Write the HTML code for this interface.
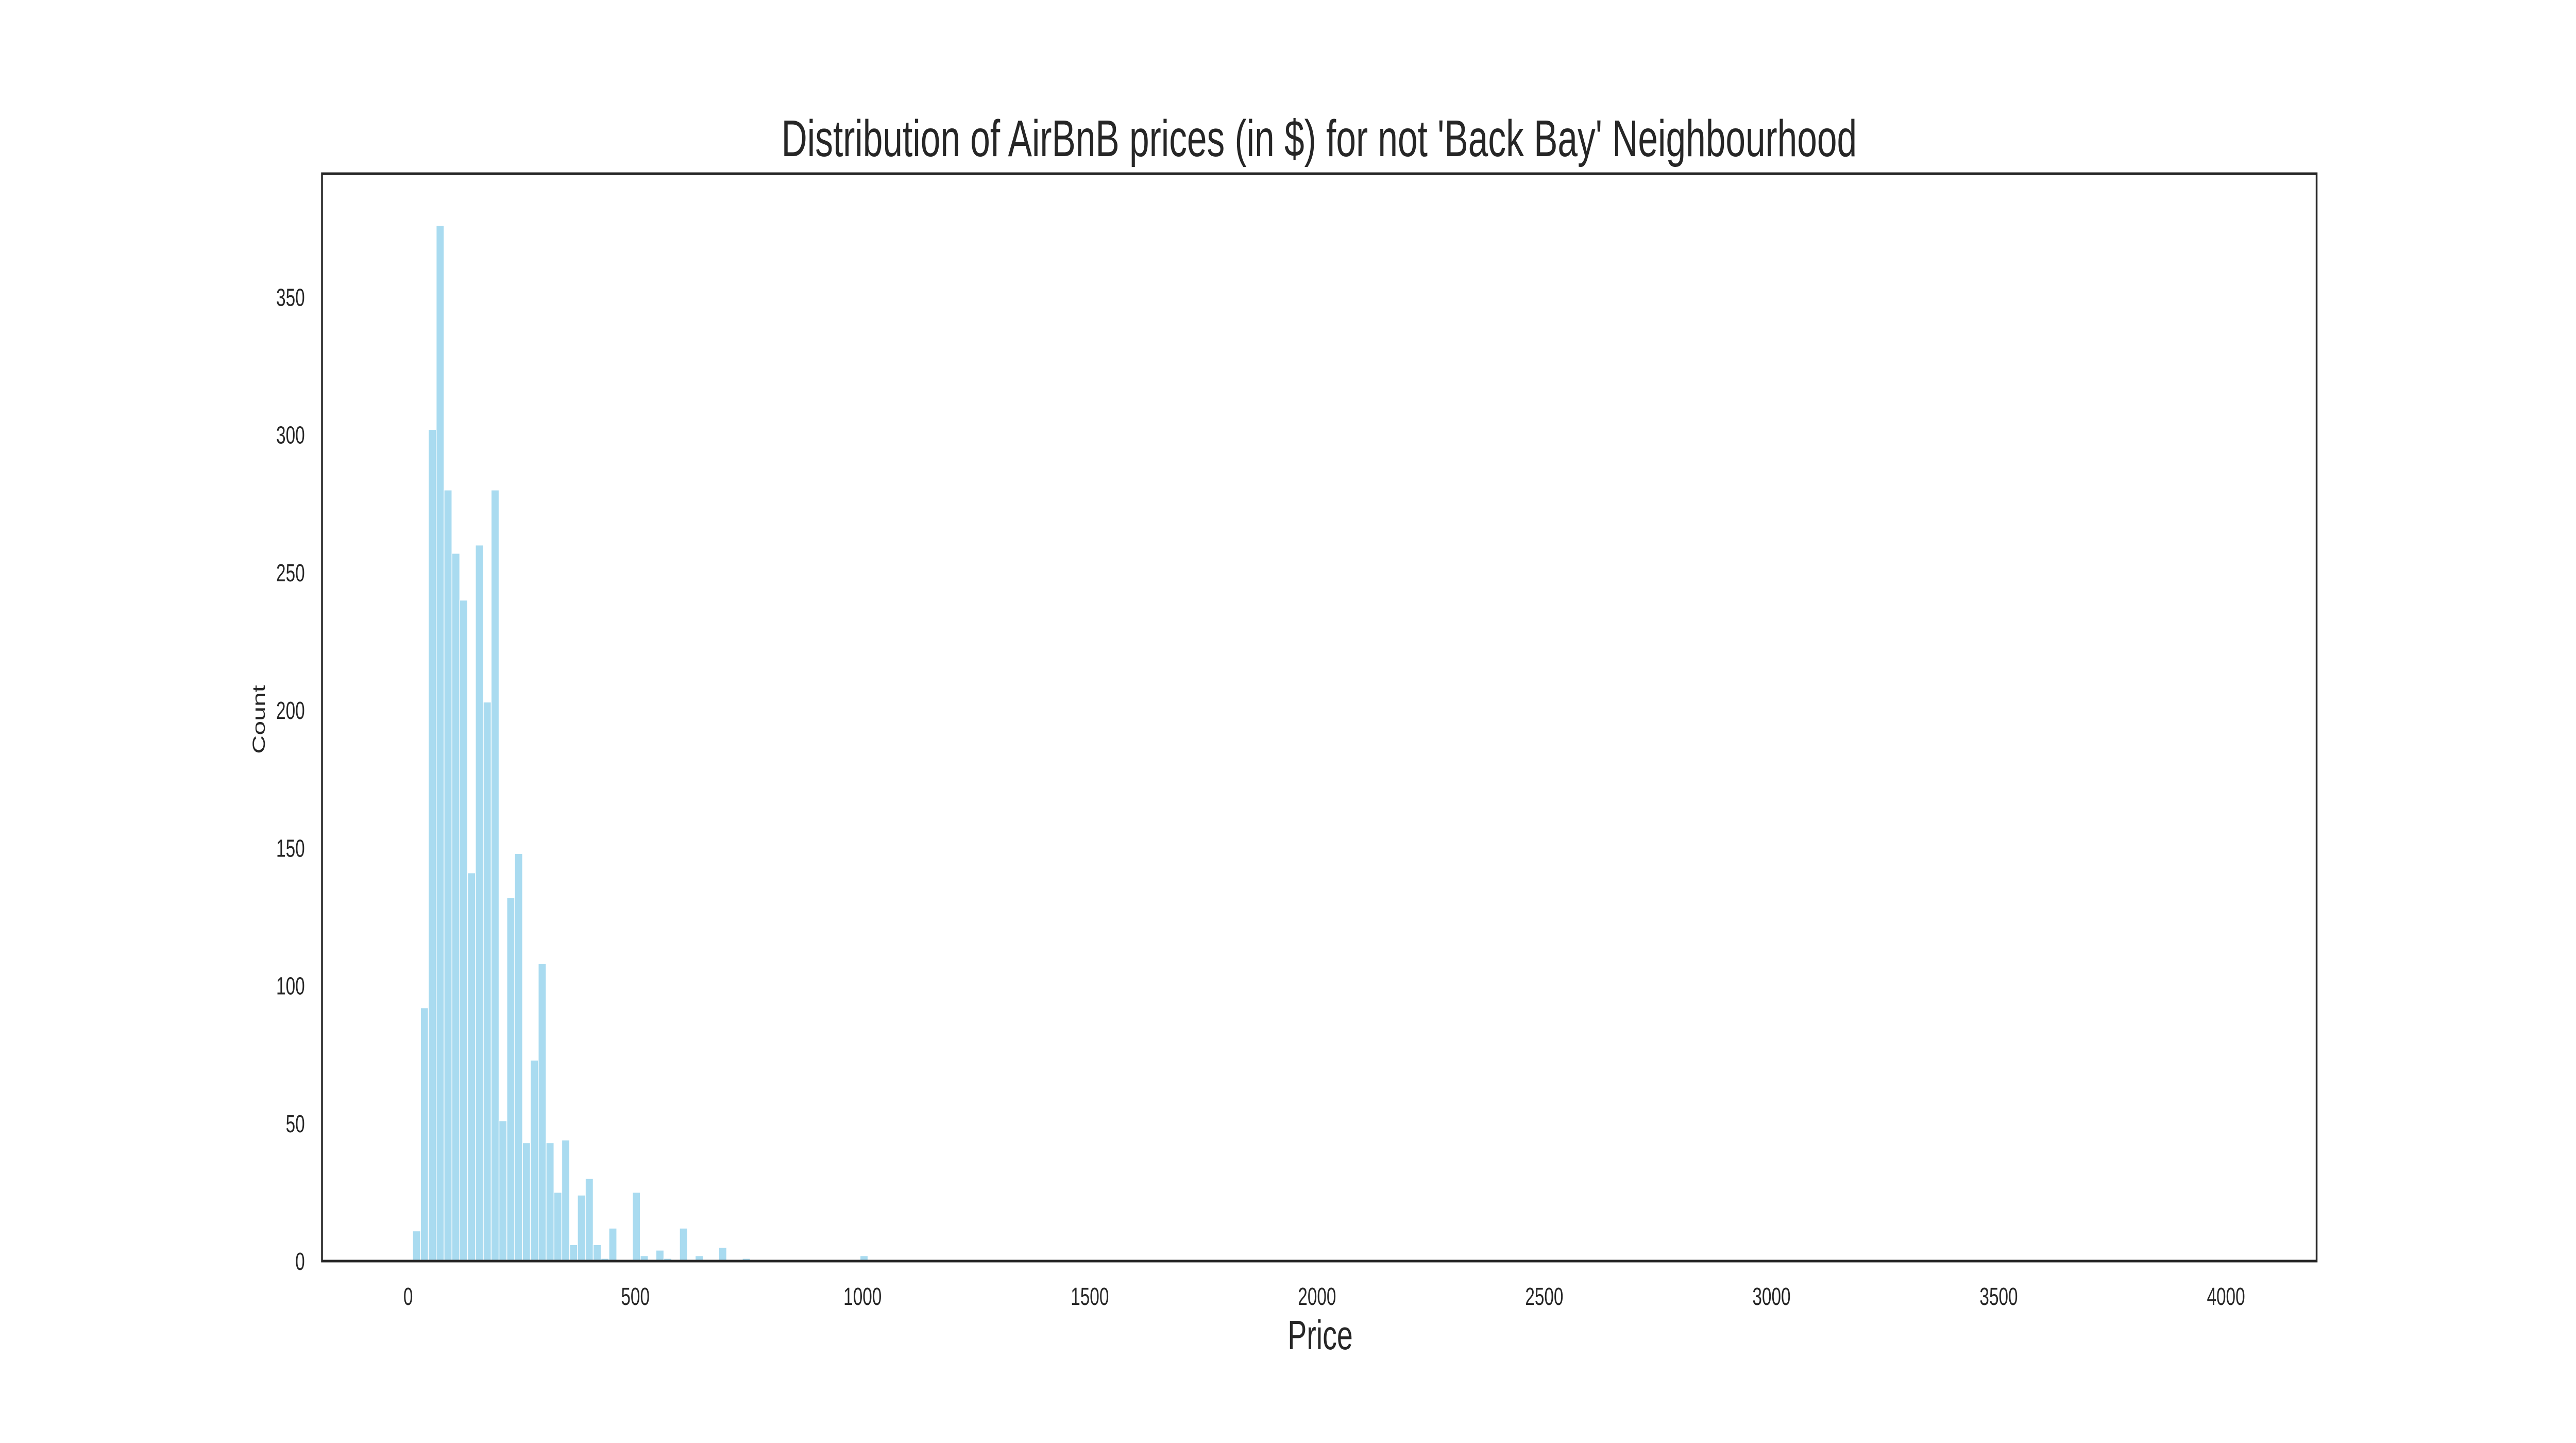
<!DOCTYPE html>
<html>
<head>
<meta charset="utf-8">
<style>
  html, body { margin: 0; padding: 0; background: #ffffff; overflow: hidden; width: 100vw; height: 100vh; }
  svg { display: block; width: 100vw; height: 100vh; }
  text { font-family: "Liberation Sans", "DejaVu Sans", sans-serif; fill: #262626; }
</style>
</head>
<body>
<svg id="chart" xmlns="http://www.w3.org/2000/svg" viewBox="0 0 7200 2800" preserveAspectRatio="none">
  <rect x="0" y="0" width="7200" height="2800" fill="#ffffff"/>
  <text x="3687" y="303" font-size="100" text-anchor="middle">Distribution of AirBnB prices (in $) for not 'Back Bay' Neighbourhood</text>
  <g id="bars"></g>
  <g id="xticks"></g>
  <g id="yticks"></g>
  <rect x="900" y="337" width="5575" height="2110" fill="none" stroke="#262626" stroke-width="5"/>
  <text x="3690" y="2618" font-size="80" text-anchor="middle">Price</text>
  <text x="740" y="1396" font-size="50" text-anchor="middle" transform="rotate(-90 740 1396)">Count</text>
</svg>
<script>
// Histogram data (price bins)
const binStart = 10;
const binEnd = 4000;
const binCount = 231;
// non-zero bin indices and their counts
const binIndex = [0, 1, 2, 3, 4, 5, 6, 7, 8, 9, 10, 11, 12, 13, 14, 15, 16, 17, 18, 19, 20, 21, 22, 23, 24, 25, 28, 29, 31, 32, 34, 36, 39, 42, 57];
const binValues = [11, 92, 302, 376, 280, 257, 240, 141, 260, 203, 280, 51, 132, 148, 43, 73, 108, 43, 25, 44, 6, 24, 30, 6, 1, 12, 25, 2, 4, 1, 12, 2, 5, 1, 2];
const xTickValues = [0, 500, 1000, 1500, 2000, 2500, 3000, 3500, 4000];
const yTickValues = [0, 50, 100, 150, 200, 250, 300, 350];

const NS = 'http://www.w3.org/2000/svg';
const plotLeft = 900, plotRight = 6475, plotTop = 337, plotBottom = 2447;
const xMin = binStart - (binEnd - binStart) * 0.05;
const xMax = binEnd + (binEnd - binStart) * 0.05;
const maxCount = Math.max(...binValues);
const yMax = maxCount * 1.05;
function xScale(v) { return plotLeft + (v - xMin) / (xMax - xMin) * (plotRight - plotLeft); }
function yScale(v) { return plotBottom - v / yMax * (plotBottom - plotTop); }

const binWidth = (binEnd - binStart) / binCount;
const barsG = document.getElementById('bars');
for (let k = 0; k < binIndex.length; k++) {
  const i = binIndex[k];
  const x0 = xScale(binStart + i * binWidth);
  const x1 = xScale(binStart + (i + 1) * binWidth);
  const y0 = yScale(binValues[k]);
  const r = document.createElementNS(NS, 'rect');
  r.setAttribute('x', x0);
  r.setAttribute('y', y0);
  r.setAttribute('width', x1 - x0);
  r.setAttribute('height', plotBottom - y0);
  r.setAttribute('fill', '#a9dbf0');
  r.setAttribute('stroke', '#ffffff');
  r.setAttribute('stroke-width', '2');
  
  
  barsG.appendChild(r);
}

const xt = document.getElementById('xticks');
xTickValues.forEach(v => {
  const t = document.createElementNS(NS, 'text');
  t.setAttribute('x', xScale(v));
  t.setAttribute('y', 2532);
  t.setAttribute('font-size', '48');
  t.setAttribute('text-anchor', 'middle');
  
  
  t.textContent = String(v);
  xt.appendChild(t);
});

const yt = document.getElementById('yticks');
yTickValues.forEach(v => {
  const t = document.createElementNS(NS, 'text');
  t.setAttribute('x', 852);
  t.setAttribute('y', yScale(v) + 17);
  t.setAttribute('font-size', '48');
  t.setAttribute('text-anchor', 'end');
  
  
  t.textContent = String(v);
  yt.appendChild(t);
});
</script>
</body>
</html>
